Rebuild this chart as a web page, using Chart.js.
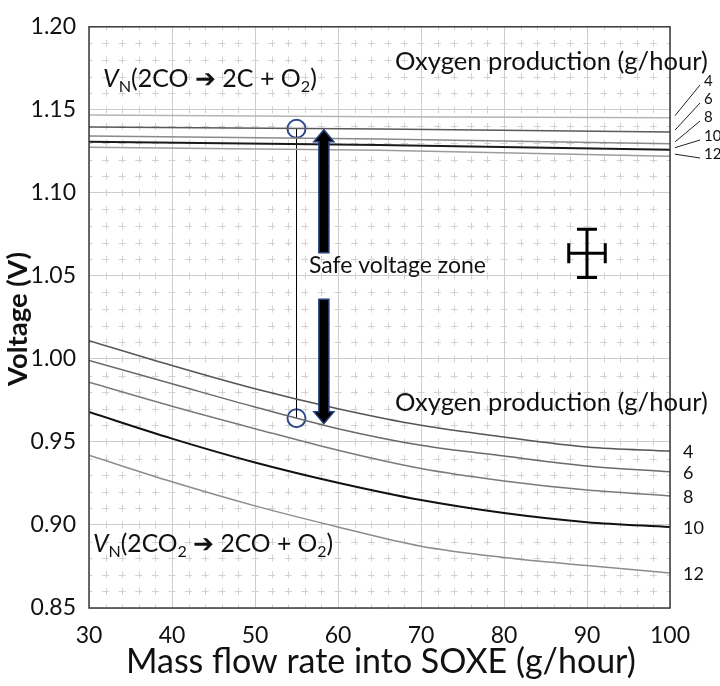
<!DOCTYPE html>
<html lang="en">
<head>
<meta charset="UTF-8">
<title>Safe voltage zone</title>
<script src="https://cdn.jsdelivr.net/npm/chart.js"></script>
<style>
  html, body { margin: 0; padding: 0; background: #fff; }
  #chart { display: block; }
</style>
</head>
<body>
<canvas id="chart" width="720" height="686"></canvas>
<script>
const FONT = 'Lato, "Open Sans", sans-serif';

// mass flow into SOXE (g/hour) where the curves were read
const flowLower = [30, 40, 50, 60, 70, 80, 90, 100];
const flowUpper = [30, 65, 100];
const o2Rates = [4, 6, 8, 10, 12];

// V_N(2CO2 -> 2CO + O2), one list per oxygen production rate
const co2Volts4  = [1.011, 0.996, 0.982, 0.970, 0.960, 0.953, 0.947, 0.9445];
const co2Volts6  = [0.999, 0.985, 0.971, 0.958, 0.948, 0.9415, 0.9355, 0.932];
const co2Volts8  = [0.986, 0.9715, 0.958, 0.945, 0.934, 0.9265, 0.921, 0.9175];
const co2Volts10 = [0.968, 0.952, 0.9376, 0.9254, 0.915, 0.9072, 0.9017, 0.8988];
const co2Volts12 = [0.942, 0.926, 0.9115, 0.8988, 0.8872, 0.8804, 0.8756, 0.8711];

// V_N(2CO -> 2C + O2)
const coVolts4  = [1.1469, 1.1459, 1.1453];
const coVolts6  = [1.1397, 1.1384, 1.1366];
const coVolts8  = [1.1343, 1.1324, 1.1295];
const coVolts10 = [1.1308, 1.1288, 1.1260];
const coVolts12 = [1.1275, 1.1256, 1.1221];

// safe zone marker at 55 g/hour
const markerFlow = 55;
const markerVolts = [0.9643, 1.1386];

// double arrow
const arrowFlow = 58.3;
const arrowUpVolts = [1.064, 1.138];
const arrowDownVolts = [1.036, 0.961];

// error cross
const errFlow = 90;
const errVolt = 1.0636;
const errFlowDelta = 2.2;
const errVoltDelta = 0.0145;

const co2Sets = [co2Volts4, co2Volts6, co2Volts8, co2Volts10, co2Volts12];
const coSets = [coVolts4, coVolts6, coVolts8, coVolts10, coVolts12];
const co2Colors = ['#555555', '#6a6a6a', '#7a7a7a', '#111111', '#8c8c8c'];
const coColors = ['#b4b4b4', '#5a5a5a', '#8a8a8a', '#1a1a1a', '#9c9c9c'];

const toPoints = (xs, ys) => xs.map((x, i) => ({ x: x, y: ys[i] }));

const datasets = [];
co2Sets.forEach((vals, i) => {
  datasets.push({
    label: 'CO2 ' + o2Rates[i],
    data: toPoints(flowLower, vals),
    borderColor: co2Colors[i],
    borderWidth: o2Rates[i] === 10 ? 2 : 1.5,
    cubicInterpolationMode: 'monotone',
    pointRadius: 0
  });
});
coSets.forEach((vals, i) => {
  datasets.push({
    label: 'CO ' + o2Rates[i],
    data: toPoints(flowUpper, vals),
    borderColor: coColors[i],
    borderWidth: o2Rates[i] === 10 ? 2 : 1.5,
    pointRadius: 0
  });
});
datasets.push({
  label: 'marker line',
  data: markerVolts.map(v => ({ x: markerFlow, y: v })),
  borderColor: '#000',
  borderWidth: 1,
  pointRadius: 0
});
datasets.push({
  label: 'markers',
  data: markerVolts.map(v => ({ x: markerFlow, y: v })),
  showLine: false,
  pointRadius: 9,
  pointBorderWidth: 2,
  pointBorderColor: '#2f4a8c',
  pointBackgroundColor: 'rgba(0,0,0,0)'
});

// draws a text made of pieces (italic, subscript) scaled to a given width
function drawRich(ctx, parts, x, baseline, width) {
  const fontFor = (p, size) =>
    (p.italic ? 'italic ' : '') + (p.bold ? 'bold ' : '') + (p.sub ? size * 0.65 : size) + 'px ' + FONT;
  let total = 0;
  parts.forEach(p => { ctx.font = fontFor(p, 100); total += ctx.measureText(p.t).width; });
  const size = 100 * width / total;
  let cx = x;
  ctx.textAlign = 'left';
  ctx.textBaseline = 'alphabetic';
  parts.forEach(p => {
    ctx.font = fontFor(p, size);
    ctx.fillText(p.t, cx, baseline + (p.sub ? size * 0.2 : 0));
    cx += ctx.measureText(p.t).width;
  });
}

function drawArrow(ctx, x, y0, y1) {
  const dir = y1 < y0 ? -1 : 1;
  const head = 12, half = 10, shaft = 5;
  ctx.beginPath();
  ctx.moveTo(x - shaft, y0);
  ctx.lineTo(x - shaft, y1 - dir * head);
  ctx.lineTo(x - half, y1 - dir * head);
  ctx.lineTo(x, y1);
  ctx.lineTo(x + half, y1 - dir * head);
  ctx.lineTo(x + shaft, y1 - dir * head);
  ctx.lineTo(x + shaft, y0);
  ctx.closePath();
  ctx.fillStyle = '#000';
  ctx.fill();
  ctx.strokeStyle = '#22407a';
  ctx.lineWidth = 1.5;
  ctx.stroke();
}

const decorations = {
  id: 'decorations',
  beforeDatasetsDraw(chart) {
    const { ctx, chartArea: a, scales: { x, y } } = chart;
    ctx.save();
    ctx.strokeStyle = '#d2d2d2';
    ctx.lineWidth = 1;
    // minor grid, every 2 g/hour and every 0.01 V
    const colW = x.getPixelForValue(32) - x.getPixelForValue(30);
    ctx.setLineDash([7, colW - 7]);
    ctx.lineDashOffset = 3.5;
    for (let i = 1; i < 35; i++) {
      if (i % 5 === 0) continue;
      const py = Math.round(y.getPixelForValue(0.85 + i * 0.01)) + 0.5;
      ctx.beginPath(); ctx.moveTo(a.left, py); ctx.lineTo(a.right, py); ctx.stroke();
    }
    const rowH = y.getPixelForValue(0.85) - y.getPixelForValue(0.86);
    ctx.setLineDash([7, rowH - 7]);
    for (let i = 1; i < 35; i++) {
      if (i % 5 === 0) continue;
      const px = Math.round(x.getPixelForValue(30 + i * 2)) + 0.5;
      ctx.beginPath(); ctx.moveTo(px, a.bottom); ctx.lineTo(px, a.top); ctx.stroke();
    }
    ctx.restore();
  },
  afterDatasetsDraw(chart) {
    const { ctx, chartArea: a, scales: { x, y } } = chart;
    ctx.save();

    // frame
    ctx.strokeStyle = '#3a3a3a';
    ctx.lineWidth = 1.5;
    ctx.strokeRect(a.left, a.top, a.right - a.left, a.bottom - a.top);

    // safe zone arrows
    const ax = x.getPixelForValue(arrowFlow);
    drawArrow(ctx, ax, y.getPixelForValue(arrowUpVolts[0]), y.getPixelForValue(arrowUpVolts[1]));
    drawArrow(ctx, ax, y.getPixelForValue(arrowDownVolts[0]), y.getPixelForValue(arrowDownVolts[1]));

    // error cross
    const ex = x.getPixelForValue(errFlow), ey = y.getPixelForValue(errVolt);
    const exl = x.getPixelForValue(errFlow - errFlowDelta), exr = x.getPixelForValue(errFlow + errFlowDelta);
    const eyt = y.getPixelForValue(errVolt + errVoltDelta), eyb = y.getPixelForValue(errVolt - errVoltDelta);
    ctx.strokeStyle = '#000';
    ctx.lineWidth = 3;
    ctx.beginPath();
    ctx.moveTo(exl, ey); ctx.lineTo(exr, ey);
    ctx.moveTo(ex, eyt); ctx.lineTo(ex, eyb);
    ctx.moveTo(exl, ey - 10); ctx.lineTo(exl, ey + 10);
    ctx.moveTo(exr, ey - 10); ctx.lineTo(exr, ey + 10);
    ctx.moveTo(ex - 10, eyt); ctx.lineTo(ex + 10, eyt);
    ctx.moveTo(ex - 10, eyb); ctx.lineTo(ex + 10, eyb);
    ctx.stroke();

    ctx.fillStyle = '#111';

    // rate labels, lower group
    ctx.font = '18px ' + FONT;
    ctx.textAlign = 'left';
    ctx.textBaseline = 'middle';
    co2Sets.forEach((vals, i) => {
      ctx.fillText(String(o2Rates[i]), a.right + 13, y.getPixelForValue(vals[vals.length - 1]) + 1);
    });

    // rate labels, upper group with leader lines
    const upperLabelY = [81, 99, 117, 136, 154];
    ctx.font = '15px ' + FONT;
    ctx.strokeStyle = '#222';
    ctx.lineWidth = 1;
    coSets.forEach((vals, i) => {
      const endY = y.getPixelForValue(vals[vals.length - 1]);
      ctx.beginPath();
      ctx.moveTo(a.right + 5, endY - 2);
      ctx.lineTo(a.right + 30, upperLabelY[i] + 4);
      ctx.stroke();
      ctx.fillText(String(o2Rates[i]), a.right + 34, upperLabelY[i]);
    });

    // annotations
    const oxy = [{ t: 'Oxygen production (g/hour)' }];
    drawRich(ctx, oxy, 395, 70, 313);
    drawRich(ctx, oxy, 395, 411, 313);
    drawRich(ctx, [
      { t: 'V', italic: true }, { t: 'N', sub: true }, { t: '(2CO ' }, { t: '\u2794' },
      { t: ' 2C + O' }, { t: '2', sub: true }, { t: ')' }
    ], 103, 87, 214);
    drawRich(ctx, [
      { t: 'V', italic: true }, { t: 'N', sub: true }, { t: '(2CO' }, { t: '2', sub: true },
      { t: ' \u2794 2CO + O' }, { t: '2', sub: true }, { t: ')' }
    ], 93, 552, 240);

    ctx.font = '23px ' + FONT;
    ctx.textAlign = 'left';
    ctx.textBaseline = 'middle';
    ctx.fillText('Safe voltage zone', 309, 266);
    ctx.restore();
  },
  afterDraw(chart) {
    const { ctx } = chart;
    ctx.save();
    ctx.fillStyle = '#111';
    // axis titles, sized to the reference spans
    drawRich(ctx, [{ t: 'Mass flow rate into SOXE (g/hour)' }], 126, 673, 510);
    ctx.translate(27, 386);
    ctx.rotate(-Math.PI / 2);
    drawRich(ctx, [{ t: 'Voltage (V)', bold: true }], 0, 0, 134);
    ctx.restore();
  }
};

new Chart(document.getElementById('chart'), {
  type: 'line',
  data: { datasets: datasets },
  plugins: [decorations],
  options: {
    responsive: false,
    animation: false,
    layout: { padding: { top: 7, right: 50, left: 0, bottom: 0 } },
    plugins: { legend: { display: false }, tooltip: { enabled: false } },
    scales: {
      x: {
        type: 'linear',
        min: 30,
        max: 100,
        ticks: { stepSize: 10, color: '#111', padding: 14, font: { family: FONT, size: 23 } },
        grid: { color: '#cccccc', drawTicks: false },
        border: { display: false },
        afterFit: s => { s.height = 78; }
      },
      y: {
        min: 0.85,
        max: 1.2,
        ticks: {
          stepSize: 0.05, color: '#111', padding: 13, font: { family: FONT, size: 23 },
          callback: v => v.toFixed(2)
        },
        grid: { color: '#cccccc', drawTicks: false },
        border: { display: false },
        afterFit: s => { s.width = 89; }
      }
    }
  }
});
</script>
</body>
</html>
